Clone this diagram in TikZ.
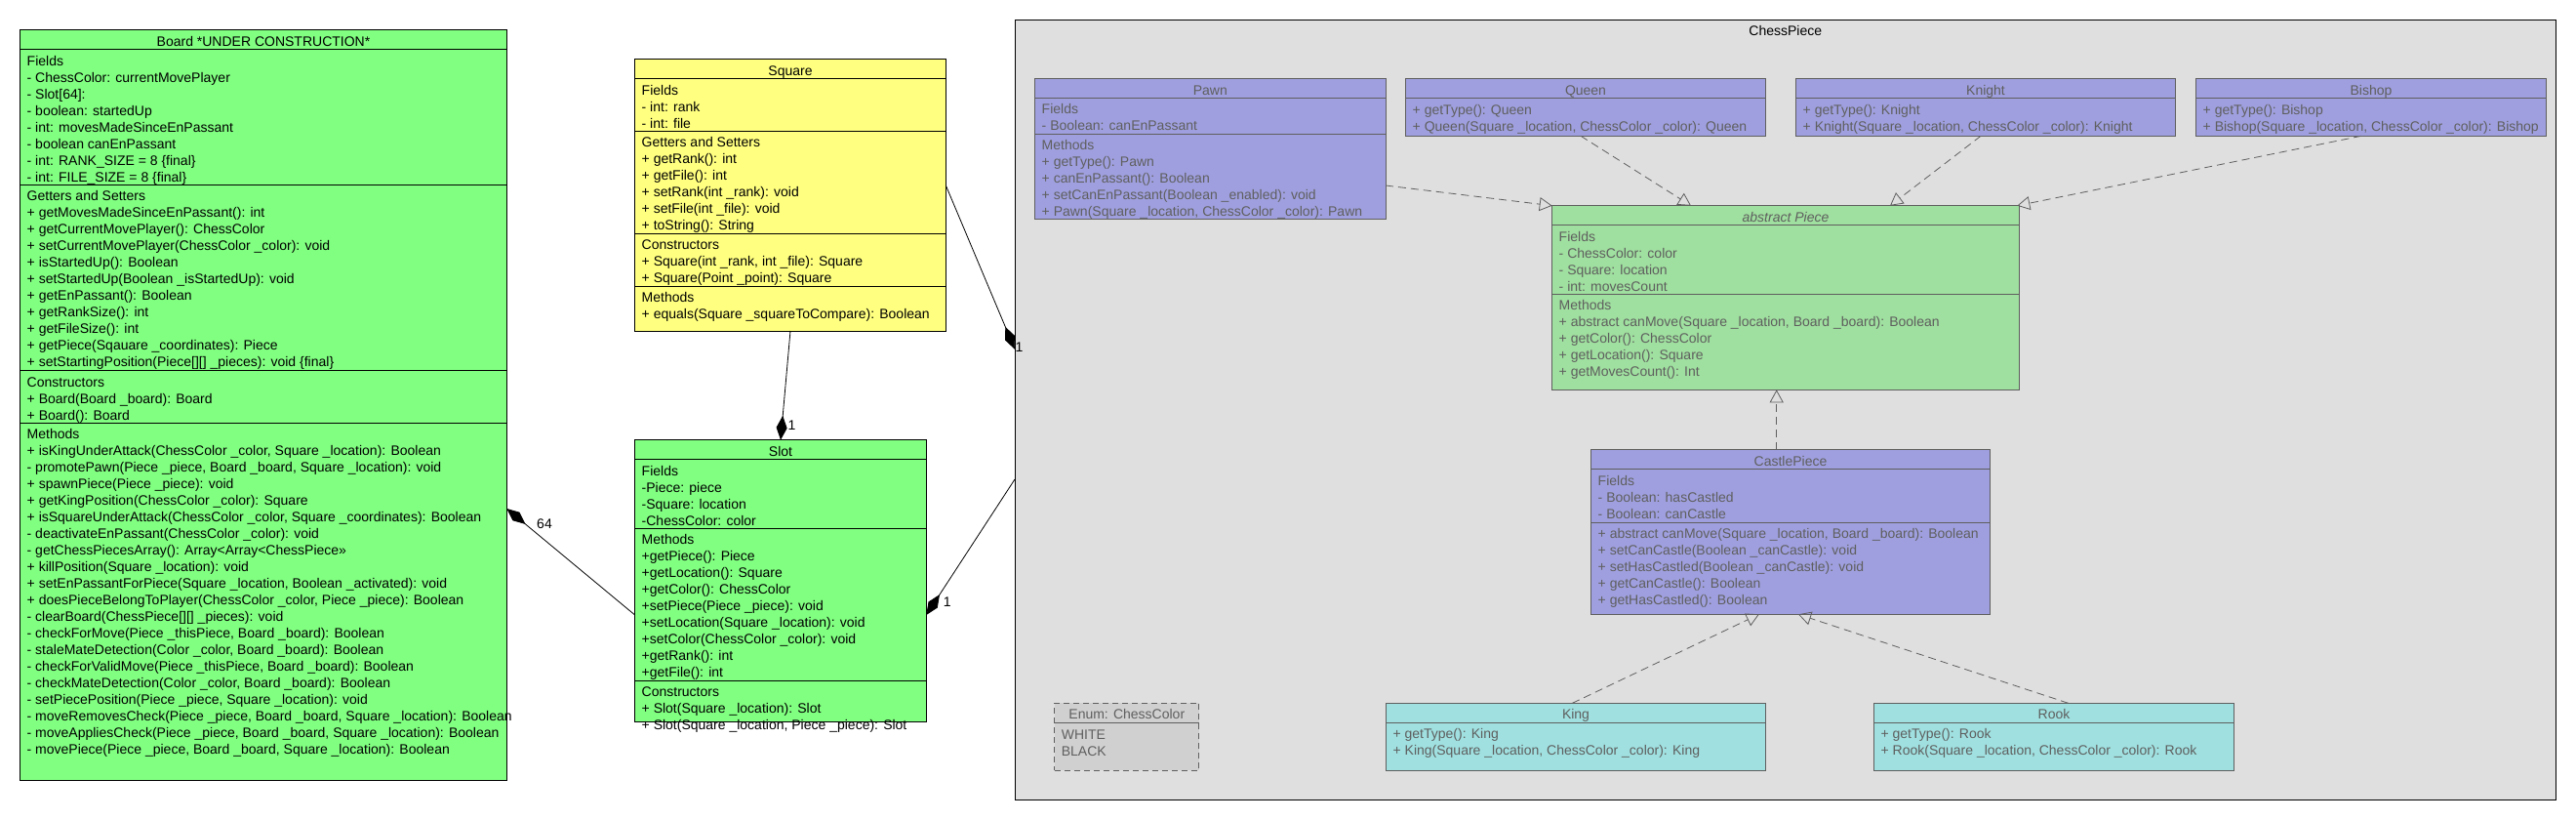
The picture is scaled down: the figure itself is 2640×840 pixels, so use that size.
\documentclass[tikz,border=0pt]{standalone}
\usepackage{fontspec}
\setmainfont{Liberation Sans}
\usetikzlibrary{arrows.meta}
\definecolor{cgreen}{HTML}{80FF80}
\definecolor{cyellow}{HTML}{FFFF80}
\definecolor{cpurple}{HTML}{9F9FDF}
\definecolor{cpiece}{HTML}{9FDF9F}
\definecolor{ccyan}{HTML}{A0E0E0}
\definecolor{cpkg}{HTML}{DFDFDF}
\definecolor{cenum}{HTML}{D0D0D0}
\definecolor{cgray}{HTML}{5F5F5F}
\newcommand\umlbox[6]{\node[#6, minimum width={#4-#2}, minimum height={#5-#3}, anchor=north west] (#1) at (#2,#3) {};}
\newcommand\umldiv[4]{\draw[#4] (#1,#3) -- (#2,#3);}
\newcommand\umlsec[5]{\node[#5] (#1) at (#2+7,#3+4) {\rule{0pt}{12.5pt}#4};}
\newcommand\umltitle[5]{\node[ttlsty,#5] (#1) at (#2,#3+16.5) {#4};}
\begin{document}
\begin{tikzpicture}[x=1pt,y=-1pt,
 box/.style={draw=black,line width=1pt,inner sep=0pt,outer sep=0pt},
 gbox/.style={draw=cgray,line width=1pt,inner sep=0pt,outer sep=0pt},
 bline/.style={draw=black,line width=1pt},
 gline/.style={draw=cgray,line width=1pt},
 txt/.style={inner sep=0pt,outer sep=0pt,align=left,anchor=north west,font=\fontsize{14}{17}\selectfont,text=black},
 gtxt/.style={txt,text=cgray},
 ttlsty/.style={inner sep=0pt,anchor=base,font=\fontsize{14}{17}\selectfont,text=black},
 comp/.style={draw=black,line width=0.8pt,-{Diamond[length=25pt,width=11pt]}},
 real/.style={draw=cgray,line width=0.8pt,dash pattern=on 8pt off 5pt,-{Triangle[open,length=13pt,width=14pt]}},
 lbl/.style={inner sep=0pt,font=\fontsize{14}{17}\selectfont,text=black}]
\fill[white] (0,0) rectangle (2640,840);
\useasboundingbox (0,0) rectangle (2640,840);

% ---------- package ----------
\umlbox{package}{1040}{20.3}{2619.5}{819.3}{box,fill=cpkg}
\umltitle{pkgT}{1829.8}{20.3}{ChessPiece}{}

% ---------- Board ----------
\umlbox{board}{20.7}{30.7}{519.3}{799}{box,fill=cgreen}
\umldiv{20.7}{519.3}{50.7}{bline}
\umldiv{20.7}{519.3}{189.3}{bline}
\umldiv{20.7}{519.3}{379.7}{bline}
\umldiv{20.7}{519.3}{433.3}{bline}
\umltitle{boardT}{270}{30.7}{Board *UNDER CONSTRUCTION*}{}
\umlsec{boardF}{20.7}{50.7}{Fields\\- ChessColor: currentMovePlayer\\- Slot[64]:\\- boolean: startedUp\\- int: movesMadeSinceEnPassant\\- boolean canEnPassant\\- int: RANK\_SIZE = 8 \{final\}\\- int: FILE\_SIZE = 8 \{final\}}{txt}
\umlsec{boardG}{20.7}{189.3}{Getters and Setters\\+ getMovesMadeSinceEnPassant(): int\\+ getCurrentMovePlayer(): ChessColor\\+ setCurrentMovePlayer(ChessColor \_color): void\\+ isStartedUp(): Boolean\\+ setStartedUp(Boolean \_isStartedUp): void\\+ getEnPassant(): Boolean\\+ getRankSize(): int\\+ getFileSize(): int\\+ getPiece(Sqauare \_coordinates): Piece\\+ setStartingPosition(Piece[][] \_pieces): void \{final\}}{txt}
\umlsec{boardC}{20.7}{379.7}{Constructors\\+ Board(Board \_board): Board\\+ Board(): Board}{txt}
\umlsec{boardM}{20.7}{433.3}{Methods\\+ isKingUnderAttack(ChessColor \_color, Square \_location): Boolean\\- promotePawn(Piece \_piece, Board \_board, Square \_location): void\\+ spawnPiece(Piece \_piece): void\\+ getKingPosition(ChessColor \_color): Square\\+ isSquareUnderAttack(ChessColor \_color, Square \_coordinates): Boolean\\- deactivateEnPassant(ChessColor \_color): void\\- getChessPiecesArray(): Array<Array<ChessPiece»\\+ killPosition(Square \_location): void\\+ setEnPassantForPiece(Square \_location, Boolean \_activated): void\\+ doesPieceBelongToPlayer(ChessColor \_color, Piece \_piece): Boolean\\- clearBoard(ChessPiece[][] \_pieces): void\\- checkForMove(Piece \_thisPiece, Board \_board): Boolean\\- staleMateDetection(Color \_color, Board \_board): Boolean\\- checkForValidMove(Piece \_thisPiece, Board \_board): Boolean\\- checkMateDetection(Color \_color, Board \_board): Boolean\\- setPiecePosition(Piece \_piece, Square \_location): void\\- moveRemovesCheck(Piece \_piece, Board \_board, Square \_location): Boolean\\- moveAppliesCheck(Piece \_piece, Board \_board, Square \_location): Boolean\\- movePiece(Piece \_piece, Board \_board, Square \_location): Boolean}{txt}

% ---------- Square ----------
\umlbox{square}{650.7}{60.7}{969.3}{339}{box,fill=cyellow}
\umldiv{650.7}{969.3}{80.7}{bline}
\umldiv{650.7}{969.3}{134.3}{bline}
\umldiv{650.7}{969.3}{239.3}{bline}
\umldiv{650.7}{969.3}{293.3}{bline}
\umltitle{squareT}{810}{60.7}{Square}{}
\umlsec{squareF}{650.7}{80.7}{Fields\\- int: rank\\- int: file}{txt}
\umlsec{squareG}{650.7}{134.3}{Getters and Setters\\+ getRank(): int\\+ getFile(): int\\+ setRank(int \_rank): void\\+ setFile(int \_file): void\\+ toString(): String}{txt}
\umlsec{squareC}{650.7}{239.3}{Constructors\\+ Square(int \_rank, int \_file): Square\\+ Square(Point \_point): Square}{txt}
\umlsec{squareM}{650.7}{293.3}{Methods\\+ equals(Square \_squareToCompare): Boolean}{txt}

% ---------- Slot ----------
\umlbox{slot}{650.7}{450.7}{949.3}{739.3}{box,fill=cgreen}
\umldiv{650.7}{949.3}{470.7}{bline}
\umldiv{650.7}{949.3}{541.3}{bline}
\umldiv{650.7}{949.3}{697.3}{bline}
\umltitle{slotT}{800}{450.7}{Slot}{}
\umlsec{slotF}{650.7}{470.7}{Fields\\-Piece: piece\\-Square: location\\-ChessColor: color}{txt}
\umlsec{slotM}{650.7}{541.3}{Methods\\+getPiece(): Piece\\+getLocation(): Square\\+getColor(): ChessColor\\+setPiece(Piece \_piece): void\\+setLocation(Square \_location): void\\+setColor(ChessColor \_color): void\\+getRank(): int\\+getFile(): int}{txt}
\umlsec{slotC}{650.7}{697.3}{Constructors\\+ Slot(Square \_location): Slot\\+ Slot(Square \_location, Piece \_piece): Slot}{txt}

% ---------- Pawn ----------
\umlbox{pawn}{1060.7}{80.7}{1420}{224.5}{gbox,fill=cpurple}
\umldiv{1060.7}{1420}{100.3}{gline}
\umldiv{1060.7}{1420}{137.3}{gline}
\umltitle{pawnT}{1240.35}{80.7}{Pawn}{text=cgray}
\umlsec{pawnF}{1060.7}{100.3}{Fields\\- Boolean: canEnPassant}{gtxt}
\umlsec{pawnM}{1060.7}{137.3}{Methods\\+ getType(): Pawn\\+ canEnPassant(): Boolean\\+ setCanEnPassant(Boolean \_enabled): void\\+ Pawn(Square \_location, ChessColor \_color): Pawn}{gtxt}

% ---------- Queen ----------
\umlbox{queen}{1440.7}{80.7}{1809.3}{139.3}{gbox,fill=cpurple}
\umldiv{1440.7}{1809.3}{100.7}{gline}
\umltitle{queenT}{1625}{80.7}{Queen}{text=cgray}
\umlsec{queenM}{1440.7}{100.7}{+ getType(): Queen\\+ Queen(Square \_location, ChessColor \_color): Queen}{gtxt}

% ---------- Knight ----------
\umlbox{knight}{1840.7}{80.7}{2229.3}{139.3}{gbox,fill=cpurple}
\umldiv{1840.7}{2229.3}{100.7}{gline}
\umltitle{knightT}{2035}{80.7}{Knight}{text=cgray}
\umlsec{knightM}{1840.7}{100.7}{+ getType(): Knight\\+ Knight(Square \_location, ChessColor \_color): Knight}{gtxt}

% ---------- Bishop ----------
\umlbox{bishop}{2250.7}{80.7}{2609.3}{139.3}{gbox,fill=cpurple}
\umldiv{2250.7}{2609.3}{100.7}{gline}
\umltitle{bishopT}{2430}{80.7}{Bishop}{text=cgray}
\umlsec{bishopM}{2250.7}{100.7}{+ getType(): Bishop\\+ Bishop(Square \_location, ChessColor \_color): Bishop}{gtxt}

% ---------- abstract Piece ----------
\umlbox{piece}{1590.7}{210.7}{2069.3}{399.3}{gbox,fill=cpiece}
\umldiv{1590.7}{2069.3}{230.7}{gline}
\umldiv{1590.7}{2069.3}{301.3}{gline}
\umltitle{pieceT}{1830}{210.7}{\itshape abstract Piece}{text=cgray}
\umlsec{pieceF}{1590.7}{230.7}{Fields\\- ChessColor: color\\- Square: location\\- int: movesCount}{gtxt}
\umlsec{pieceM}{1590.7}{301.3}{Methods\\+ abstract canMove(Square \_location, Board \_board): Boolean\\+ getColor(): ChessColor\\+ getLocation(): Square\\+ getMovesCount(): Int}{gtxt}

% ---------- CastlePiece ----------
\umlbox{castle}{1630.7}{460.7}{2039.3}{629.3}{gbox,fill=cpurple}
\umldiv{1630.7}{2039.3}{480.7}{gline}
\umldiv{1630.7}{2039.3}{535}{gline}
\umltitle{castleT}{1835}{460.7}{CastlePiece}{text=cgray}
\umlsec{castleF}{1630.7}{480.7}{Fields\\- Boolean: hasCastled\\- Boolean: canCastle}{gtxt}
\umlsec{castleM}{1630.7}{535}{+ abstract canMove(Square \_location, Board \_board): Boolean\\+ setCanCastle(Boolean \_canCastle): void\\+ setHasCastled(Boolean \_canCastle): void\\+ getCanCastle(): Boolean\\+ getHasCastled(): Boolean}{gtxt}

% ---------- Enum ----------
\umlbox{enum}{1080.8}{720.3}{1228.8}{789.3}{gbox,dashed,dash pattern=on 6pt off 4pt,fill=cenum}
\umldiv{1080.8}{1228.8}{740.5}{gline}
\umltitle{enumT}{1154.8}{720.3}{Enum: ChessColor}{text=cgray}
\umlsec{enumV}{1080.8}{740.5}{WHITE\\BLACK}{gtxt}

% ---------- King ----------
\umlbox{king}{1420.6}{720.3}{1809.4}{789.3}{gbox,fill=ccyan}
\umldiv{1420.6}{1809.4}{740.3}{gline}
\umltitle{kingT}{1615}{720.3}{King}{text=cgray}
\umlsec{kingM}{1420.6}{740.3}{+ getType(): King\\+ King(Square \_location, ChessColor \_color): King}{gtxt}

% ---------- Rook ----------
\umlbox{rook}{1920.6}{720.3}{2289.5}{789.3}{gbox,fill=ccyan}
\umldiv{1920.6}{2289.5}{740.3}{gline}
\umltitle{rookT}{2105}{720.3}{Rook}{text=cgray}
\umlsec{rookM}{1920.6}{740.3}{+ getType(): Rook\\+ Rook(Square \_location, ChessColor \_color): Rook}{gtxt}

% ---------- realization arrows ----------
\draw[real] ([yshift=-37.4pt]pawn.east) -- (piece.north west);
\draw[real] ([xshift=-5pt]queen.south) -- ([xshift=-97pt]piece.north);
\draw[real] ([xshift=-5pt]knight.south) -- ([xshift=107pt]piece.north);
\draw[real] ([xshift=-10pt]bishop.south) -- ([xshift=-2pt]piece.north east);
\draw[real] ([xshift=-14.3pt]castle.north) -- ([xshift=-9.3pt]piece.south);
\draw[real] ([xshift=-3.6pt]king.north) -- ([xshift=-32.2pt]castle.south);
\draw[real] ([xshift=14.6pt]rook.north) -- ([xshift=8pt]castle.south);

% ---------- compositions ----------
\draw[comp] (square.south) -- (slot.north);
\node[lbl] (m1) at (811.5,436) {1};
\draw[comp] ([yshift=10pt]square.east) -- ([yshift=62pt]package.west);
\node[lbl] (m2) at (1044.5,356) {1};
\draw[comp] ([yshift=-71.2pt]package.west) -- ([yshift=-35pt]slot.east);
\node[lbl] (m3) at (970.8,616.5) {1};
\draw[comp] ([yshift=-35pt]slot.west) -- ([yshift=-106.15pt]board.east);
\node[lbl] (m4) at (558,537) {64};
\end{tikzpicture}
\end{document}
